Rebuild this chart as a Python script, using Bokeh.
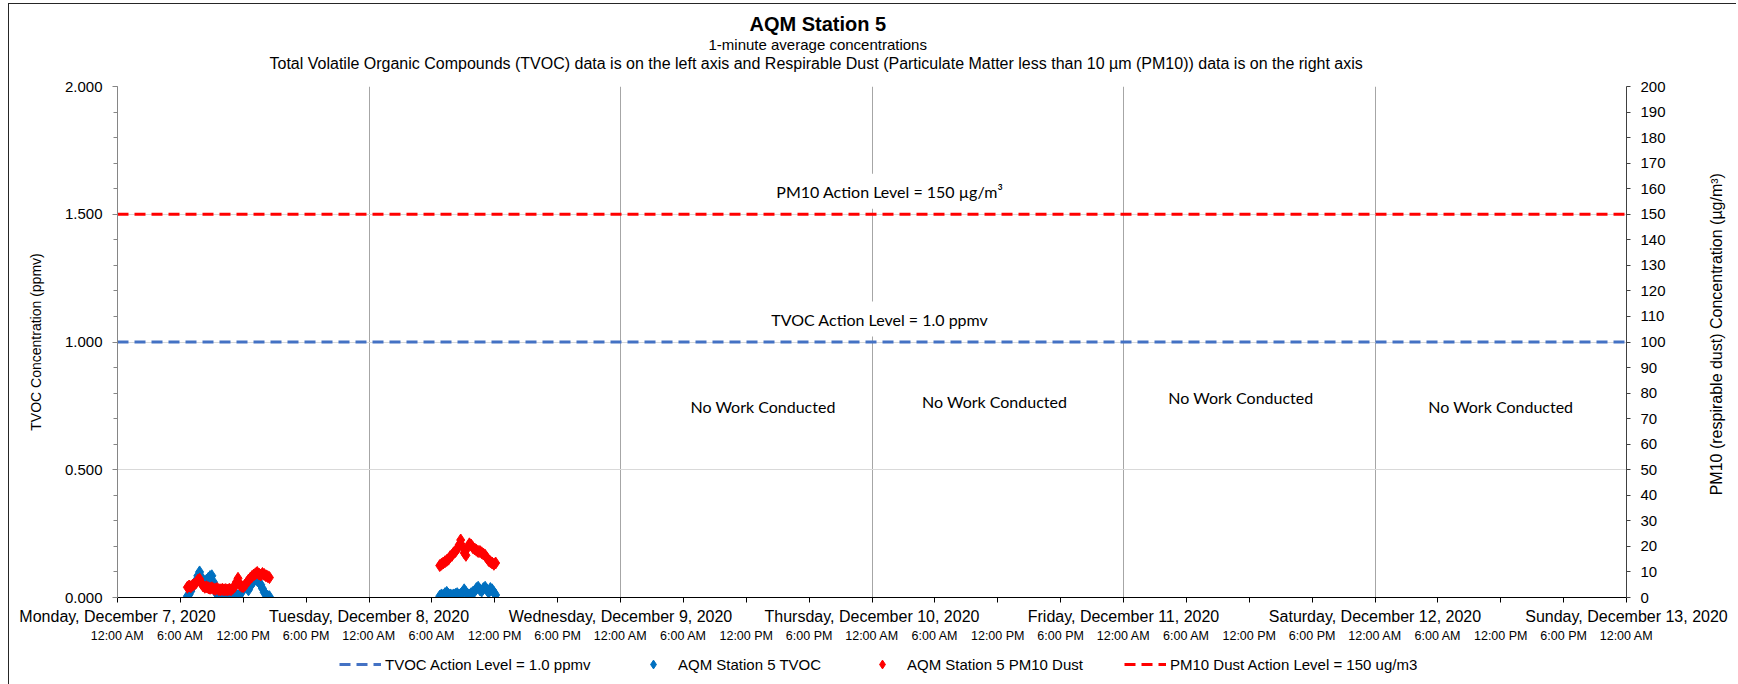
import math
import pandas as pd
from bokeh.plotting import figure
from bokeh.layouts import column
from bokeh.models import (Range1d, LinearAxis, FixedTicker, Label, Legend, LegendItem,
                          NumeralTickFormatter, Grid, Title)
from bokeh.embed import file_html
from bokeh.resources import INLINE

# ---------------- data ----------------
START = "2020-12-07 00:00"

day_labels = ["Monday, December 7, 2020", "Tuesday, December 8, 2020",
              "Wednesday, December 9, 2020", "Thursday, December 10, 2020",
              "Friday, December 11, 2020", "Saturday, December 12, 2020",
              "Sunday, December 13, 2020"]
time_labels = ["12:00 AM", "6:00 AM", "12:00 PM", "6:00 PM"]

mon_date = "2020-12-07"
mon_times = ["06:40", "06:50", "07:00", "07:10", "07:20", "07:30", "07:40", "07:50",
             "08:00", "08:10", "08:20", "08:30", "08:40", "08:50", "09:00", "09:10",
             "09:20", "09:30", "09:40", "09:50", "10:00", "10:10", "10:20", "10:30",
             "10:40", "10:50", "11:00", "11:10", "11:20", "11:30", "11:40", "11:50",
             "12:00", "12:10", "12:20", "12:30", "12:40", "12:50", "13:00", "13:10",
             "13:20", "13:30", "13:40", "13:50", "14:00", "14:10", "14:20", "14:30"]
mon_tvoc = [0.005, 0.012, 0.025, 0.040, 0.055, 0.065, 0.085, 0.100,
            0.080, 0.065, 0.060, 0.068, 0.075, 0.082, 0.085, 0.060,
            0.030, 0.012, 0.006, 0.004, 0.005, 0.008, 0.004, 0.006,
            0.010, 0.005, 0.004, 0.008, 0.012, 0.006, 0.010, 0.020,
            0.035, 0.045, 0.040, 0.030, 0.045, 0.055, 0.065, 0.072,
            0.068, 0.060, 0.050, 0.035, 0.020, 0.010, 0.005, 0.003]
mon_pm10 = [4.0, 4.5, 4.2, 4.8, 5.2, 5.8, 6.8, 7.2,
            5.5, 4.5, 4.0, 4.2, 3.8, 3.6, 3.8, 3.4,
            3.2, 3.5, 3.1, 3.0, 3.2, 3.0, 3.1, 2.9,
            3.2, 3.0, 3.6, 4.2, 6.0, 7.5, 5.0, 4.4,
            4.2, 4.8, 5.8, 6.8, 7.5, 8.2, 8.8, 9.3,
            9.8, 9.2, 8.8, 9.4, 9.0, 8.5, 8.2, 7.8]

tue_date = "2020-12-08"
tue_times = ["06:45", "06:55", "07:05", "07:15", "07:25", "07:35", "07:45", "07:55",
             "08:05", "08:15", "08:25", "08:35", "08:45", "08:55", "09:05", "09:15",
             "09:25", "09:35", "09:45", "09:55", "10:05", "10:15", "10:25", "10:35",
             "10:45", "10:55", "11:05", "11:15", "11:25", "11:35", "11:45", "11:55",
             "12:05"]
tue_tvoc = [0.005, 0.010, 0.008, 0.015, 0.020, 0.012, 0.010, 0.008,
            0.010, 0.012, 0.015, 0.010, 0.012, 0.020, 0.030, 0.020,
            0.012, 0.010, 0.015, 0.020, 0.025, 0.035, 0.040, 0.030,
            0.025, 0.035, 0.040, 0.030, 0.020, 0.035, 0.030, 0.020,
            0.010]
tue_pm10 = [12.5, 13.0, 13.5, 14.0, 14.5, 15.0, 16.0, 16.5,
            17.5, 18.0, 19.0, 20.5, 22.5, 20.0, 17.5, 16.5,
            19.5, 21.0, 20.5, 19.5, 19.0, 18.5, 18.0, 18.0,
            17.5, 17.0, 16.5, 15.5, 14.5, 14.0, 13.5, 13.0,
            13.5]

TVOC_ACTION = 1.0     # ppmv
PM10_ACTION = 150     # ug/m3

# ---------------- helpers ----------------
t0 = pd.Timestamp(START)


def to_hours(date, times):
    ts = pd.to_datetime([f"{date} {t}" for t in times])
    return list((ts - t0) / pd.Timedelta(hours=1))


mon_x = to_hours(mon_date, mon_times)
tue_x = to_hours(tue_date, tue_times)
tvoc_x = mon_x + tue_x
tvoc_y = mon_tvoc + tue_tvoc
pm_x = mon_x + tue_x
pm_y = mon_pm10 + tue_pm10

X_END = 24 * (len(day_labels) - 1)
day_ticks = list(range(0, X_END + 1, 24))
six_ticks = list(range(0, X_END + 1, 6))

ARIAL = "Liberation Sans"
CALIBRI = "Lato"
W = 1736
FRAME_CSS = ("linear-gradient(#262626, #262626) 8px 3px / 1px 100% no-repeat, "
             "linear-gradient(#262626, #262626) 8px 3px / 100% 1px no-repeat, white")

# ---------------- main figure ----------------
p = figure(width=W, height=646, output_backend="svg", toolbar_location=None,
           x_range=Range1d(0, X_END), y_range=Range1d(0, 2),
           x_axis_type=None, y_axis_type=None,
           min_border_left=117, min_border_right=108, min_border_top=86,
           min_border_bottom=49)
p.extra_y_ranges = {"pm": Range1d(0, 200)}
p.outline_line_color = None
p.background_fill_color = "white"
p.border_fill_alpha = 0
p.styles = {"background": FRAME_CSS}

# grids
p.add_layout(Grid(dimension=0, ticker=FixedTicker(ticks=day_ticks[1:-1]),
                  grid_line_color="#a6a6a6", grid_line_width=1))
p.add_layout(Grid(dimension=1, ticker=FixedTicker(ticks=[0.5, 1.0, 1.5, 2.0]),
                  grid_line_color="#d9d9d9", grid_line_width=1))

# left axis
yl = LinearAxis(ticker=FixedTicker(ticks=[0, 0.5, 1.0, 1.5, 2.0],
                                   minor_ticks=[i / 10 for i in range(21)]),
                formatter=NumeralTickFormatter(format="0.000"),
                axis_label="TVOC Concentration (ppmv)")
yl.axis_line_color = "#868686"
yl.major_tick_line_color = "#868686"
yl.minor_tick_line_color = "#868686"
yl.major_tick_out = 5
yl.major_tick_in = 0
yl.minor_tick_out = 4
yl.minor_tick_in = 0
yl.major_label_standoff = 10
yl.major_label_text_font = ARIAL
yl.major_label_text_font_size = "15px"
yl.major_label_text_color = "black"
yl.axis_label_standoff = 18
yl.axis_label_text_font = ARIAL
yl.axis_label_text_font_size = "14px"
yl.axis_label_text_font_style = "normal"
yl.axis_label_text_color = "black"
p.add_layout(yl, "left")

# right axis
yr = LinearAxis(y_range_name="pm", ticker=FixedTicker(ticks=list(range(0, 201, 10))))
yr.axis_line_color = "#404040"
yr.major_tick_line_color = "#404040"
yr.major_tick_out = 4
yr.major_tick_in = 0
yr.minor_tick_line_color = None
yr.major_label_standoff = 10
yr.major_label_text_font = ARIAL
yr.major_label_text_font_size = "15px"
yr.major_label_text_color = "black"
p.add_layout(yr, "right")

# right axis title (drawn as the single label of an extra, line-less axis so it reads upward)
RIGHT_TITLE = "PM10 (respirable dust) Concentration (\u00b5g/m\u00b3)"
yr_t = LinearAxis(y_range_name="pm", ticker=FixedTicker(ticks=[40]),
                  major_label_overrides={40: RIGHT_TITLE},
                  major_label_orientation=math.pi / 2)
yr_t.axis_line_color = None
yr_t.major_tick_line_color = None
yr_t.minor_tick_line_color = None
yr_t.major_tick_out = 0
yr_t.major_tick_in = 0
yr_t.major_label_standoff = 48
yr_t.major_label_text_font = ARIAL
yr_t.major_label_text_font_size = "16px"
yr_t.major_label_text_color = "black"
p.add_layout(yr_t, "right")

# bottom axis: day labels
xd = LinearAxis(ticker=FixedTicker(ticks=six_ticks),
                major_label_overrides={t: (day_labels[t // 24] if t % 24 == 0 else "")
                                       for t in six_ticks})
xd.axis_line_color = "black"
xd.major_tick_line_color = "black"
xd.major_tick_out = 5
xd.major_tick_in = 0
xd.minor_tick_line_color = None
xd.major_label_standoff = 5
xd.major_label_text_font = ARIAL
xd.major_label_text_font_size = "16px"
xd.major_label_text_color = "black"
p.add_layout(xd, "below")

# bottom axis: time-of-day labels
xt = LinearAxis(ticker=FixedTicker(ticks=six_ticks),
                major_label_overrides={t: time_labels[(t // 6) % 4] for t in six_ticks})
xt.axis_line_color = None
xt.major_tick_line_color = None
xt.minor_tick_line_color = None
xt.major_tick_out = 0
xt.major_tick_in = 0
xt.major_label_standoff = 1
xt.major_label_text_font = ARIAL
xt.major_label_text_font_size = "12.5px"
xt.major_label_text_color = "black"
p.add_layout(xt, "below")

# action levels
p.line([0, X_END], [TVOC_ACTION, TVOC_ACTION], line_color="#4472C4",
       line_width=3, line_dash="11 6")
p.line([0, X_END], [PM10_ACTION, PM10_ACTION], y_range_name="pm",
       line_color="#FF0000", line_width=3, line_dash="11 6")

# data
p.scatter(tvoc_x, tvoc_y, marker="diamond", size=12, color="#0070C0")
p.scatter(pm_x, pm_y, y_range_name="pm", marker="diamond", size=12, color="#FF0000")

# titles (first added sits closest to the frame)
p.add_layout(Title(text=".", text_color="white", text_font_size="10px", standoff=4), "above")
for txt, size, style, offs, va in [
        ("Total Volatile Organic Compounds (TVOC) data is on the left axis and "
         "Respirable Dust (Particulate Matter less than 10 \u00b5m (PM10)) data "
         "is on the right axis", "16px", "normal", 152, "middle"),
        ("1-minute average concentrations", "15px", "normal", 591, "middle"),
        ("AQM Station 5", "20px", "bold", 632, "bottom")]:
    p.add_layout(Title(text=txt, align="left", offset=offs, vertical_align=va,
                       text_font=ARIAL, text_font_size=size, text_font_style=style,
                       text_color="black", standoff=0), "above")

# annotations inside the plot
p.add_layout(Label(x=73.7, y=1.59, text="PM10 Action Level = 150 \u00b5g/m\u00b3",
                   text_align="center", text_baseline="middle", text_font=CALIBRI,
                   text_font_size="16px", text_color="black",
                   background_fill_color="white", padding=8))
p.add_layout(Label(x=72.75, y=1.09, text="TVOC Action Level = 1.0 ppmv",
                   text_align="center", text_baseline="middle", text_font=CALIBRI,
                   text_font_size="16px", text_color="black",
                   background_fill_color="white", padding=8))
for nx, ny in [(61.6, 0.749), (83.7, 0.769), (107.2, 0.781), (132.0, 0.749)]:
    p.add_layout(Label(x=nx, y=ny, text="No Work Conducted", text_align="center",
                       text_baseline="middle", text_font=CALIBRI, text_font_size="16px",
                       text_color="black"))

# ---------------- legend strip ----------------
q = figure(width=W, height=38, output_backend="svg", toolbar_location=None,
           x_range=Range1d(0, 1), y_range=Range1d(0, 1),
           x_axis_type=None, y_axis_type=None, min_border=0)
q.outline_line_color = None
q.background_fill_color = "white"
q.border_fill_alpha = 0
q.styles = {"background": "linear-gradient(#262626, #262626) 8px 0px / 1px 100% no-repeat, white"}
# legend key stubs, kept outside the visible range of the strip
k_tvoc_act = q.line([-9, -8], [-9, -9], line_color="#4472C4", line_width=3, line_dash="11 6")
k_tvoc = q.scatter([-9], [-9], marker="diamond", size=9, color="#0070C0")
k_pm = q.scatter([-9], [-9], marker="diamond", size=9, color="#FF0000")
k_pm_act = q.line([-9, -8], [-9, -9], line_color="#FF0000", line_width=3, line_dash="11 6")

for lbl, rend, sx in [("TVOC Action Level = 1.0 ppmv", k_tvoc_act, 222),
                      ("AQM Station 5 TVOC", k_tvoc, 515),
                      ("AQM Station 5 PM10 Dust", k_pm, 744),
                      ("PM10 Dust Action Level = 150 ug/m3", k_pm_act, 1007)]:
    q.add_layout(Legend(items=[LegendItem(label=lbl, renderers=[rend])], location=(sx, 9),
                        orientation="horizontal", glyph_width=42, glyph_height=22,
                        label_standoff=4, padding=0, margin=0, border_line_color=None,
                        background_fill_alpha=0, label_text_font=ARIAL,
                        label_text_font_size="15px", label_text_color="black"))

layout = column(p, q, spacing=0)
open("out.html", "w").write(file_html(layout, INLINE))
